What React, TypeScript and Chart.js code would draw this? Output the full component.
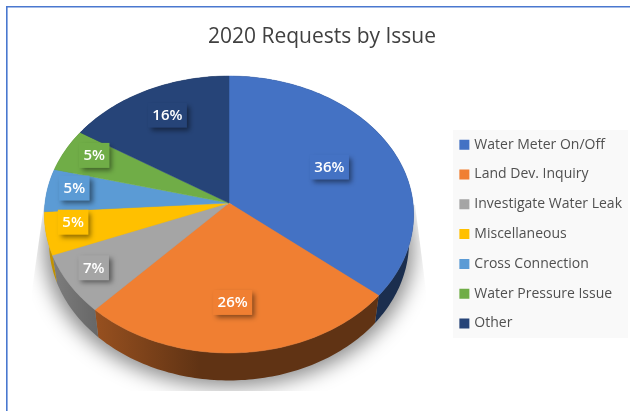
import { useEffect, useRef } from "react";
import { Chart, registerables } from "chart.js";

Chart.register(...registerables);

const categories = [
  "Water Meter On/Off",
  "Land Dev. Inquiry",
  "Investigate Water Leak",
  "Miscellaneous",
  "Cross Connection",
  "Water Pressure Issue",
  "Other",
];
const shares = [36, 26, 7, 5, 5, 5, 16];
const sliceColors = ["#4472C4", "#F07F32", "#A5A5A5", "#FFC000", "#5B9BD5", "#70AD47", "#264478"];
const chartTitle = "2020 Requests by Issue";

// Screen placement of the tilted disc
const VERTEX_X = 229;
const VERTEX_Y = 203;
const SEMI_X = 184;
const SEMI_Y = 137.5;
const TILT = -0.083;
const WALL_DROP = 27.5;
const RIM_SHRINK = 0.975;
// How far out along each slice's mid-angle its label sits, plus a small pixel nudge
const labelReach = [0.61, 0.78, 0.89, 0.86, 0.85, 0.82, 0.77];
const labelNudgeX = [1, -6, 6, 1, 0, 0, 3];
const labelNudgeY = [-1, -15, -7, -7, -4, -4, 0];

type Pt = { x: number; y: number };

// Perspective mapping of a disc point. Chart.js angles start at 3 o'clock.
function projectInner(angle: number, reach: number): Pt {
  const u = reach * Math.cos(angle);
  const v = reach * Math.sin(angle);
  const w = 1 + TILT * v;
  return { x: VERTEX_X + (SEMI_X * u) / w, y: VERTEX_Y + (SEMI_Y * v) / w };
}

function project(angle: number): Pt {
  return projectInner(angle, 1);
}

function lowerRim(angle: number): Pt {
  const p = project(angle);
  return { x: VERTEX_X + (p.x - VERTEX_X) * RIM_SHRINK, y: p.y + WALL_DROP };
}

function samples(start: number, end: number): number[] {
  const n = Math.max(2, Math.ceil((end - start) / 0.02));
  const out: number[] = [];
  for (let i = 0; i <= n; i++) out.push(start + ((end - start) * i) / n);
  return out;
}

function shade(hex: string, k: number): string {
  const n = parseInt(hex.slice(1), 16);
  const r = Math.round(((n >> 16) & 255) * k);
  const g = Math.round(((n >> 8) & 255) * k);
  const b = Math.round((n & 255) * k);
  return `rgb(${r},${g},${b})`;
}

function drawGroundShadow(ctx: CanvasRenderingContext2D) {
  ctx.save();
  ctx.beginPath();
  ctx.moveTo(44, 205);
  ctx.lineTo(415, 205);
  ctx.lineTo(426, 290);
  ctx.lineTo(426, 391);
  ctx.lineTo(32, 391);
  ctx.lineTo(32, 290);
  ctx.closePath();
  ctx.clip();
  ctx.filter = "blur(10px)";
  ctx.fillStyle = "rgba(0,0,0,0.46)";
  ctx.beginPath();
  samples(0, Math.PI * 2).forEach((a, i) => {
    const p = lowerRim(a);
    const x = VERTEX_X + (p.x - VERTEX_X) * 1.025;
    const y = p.y + 6;
    if (i === 0) ctx.moveTo(x, y);
    else ctx.lineTo(x, y);
  });
  ctx.closePath();
  ctx.fill();
  ctx.restore();
}

const piePainter = {
  id: "piePainter",
  afterLayout(chart: any) {
    // the legend's text runs closer to the edge than its row padding allows
    chart.legend.left += 2;
    chart.legend.right += 2;
  },
  beforeDraw(chart: any) {
    const { ctx } = chart;
    ctx.save();
    // frame around the chart
    ctx.fillStyle = "#ffffff";
    ctx.fillRect(0, 0, chart.width, chart.height);
    ctx.strokeStyle = "#4A78CF";
    ctx.lineWidth = 1.6;
    ctx.beginPath();
    ctx.moveTo(6.8, chart.height);
    ctx.lineTo(6.8, 6.8);
    ctx.lineTo(chart.width, 6.8);
    ctx.stroke();
    // legend panel
    ctx.fillStyle = "#F9F9F9";
    ctx.fillRect(453, 130, 175, 208);
    ctx.restore();
  },
  beforeDatasetDraw(chart: any) {
    const ctx: CanvasRenderingContext2D = chart.ctx;
    const arcs = chart.getDatasetMeta(0).data;
    const colors: string[] = chart.data.datasets[0].backgroundColor;

    drawGroundShadow(ctx);

    // side wall first, the top face covers whatever faces away
    arcs.forEach((arc: any, i: number) => {
      const { startAngle, endAngle } = arc.getProps(["startAngle", "endAngle"], true);
      const grad = ctx.createLinearGradient(44, 0, 414, 0);
      grad.addColorStop(0, shade(colors[i], 0.78));
      grad.addColorStop(0.15, shade(colors[i], 0.62));
      grad.addColorStop(0.42, shade(colors[i], 0.4));
      grad.addColorStop(1, shade(colors[i], 0.4));
      const pts = samples(startAngle, endAngle);
      ctx.beginPath();
      pts.forEach((a, k) => {
        const p = project(a);
        if (k === 0) ctx.moveTo(p.x, p.y);
        else ctx.lineTo(p.x, p.y);
      });
      pts
        .slice()
        .reverse()
        .forEach((a) => {
          const p = lowerRim(a);
          ctx.lineTo(p.x, p.y);
        });
      ctx.closePath();
      ctx.fillStyle = grad;
      ctx.fill();
    });

    // top face
    arcs.forEach((arc: any, i: number) => {
      const { startAngle, endAngle } = arc.getProps(["startAngle", "endAngle"], true);
      ctx.beginPath();
      ctx.moveTo(VERTEX_X, VERTEX_Y);
      samples(startAngle, endAngle).forEach((a) => {
        const p = project(a);
        ctx.lineTo(p.x, p.y);
      });
      ctx.closePath();
      ctx.fillStyle = colors[i];
      ctx.strokeStyle = colors[i];
      ctx.lineWidth = 0.5;
      ctx.fill();
      ctx.stroke();
    });

    // percentage tags
    ctx.font = "600 15px 'Open Sans'";
    ctx.textAlign = "center";
    ctx.textBaseline = "middle";
    arcs.forEach((arc: any, i: number) => {
      const { startAngle, endAngle } = arc.getProps(["startAngle", "endAngle"], true);
      const c = projectInner((startAngle + endAngle) / 2, labelReach[i]);
      const cx = c.x + labelNudgeX[i];
      const cy = c.y + labelNudgeY[i];
      const text = `${chart.data.datasets[0].data[i]}%`;
      const w = ctx.measureText(text).width + 9;
      const h = 25;
      ctx.save();
      ctx.shadowColor = "rgba(0,0,0,0.45)";
      ctx.shadowBlur = 5;
      ctx.shadowOffsetX = 3;
      ctx.shadowOffsetY = 3;
      ctx.fillStyle = colors[i];
      ctx.fillRect(cx - w / 2, cy - h / 2, w, h);
      ctx.restore();
      ctx.fillStyle = "#ffffff";
      ctx.fillText(text, cx, cy + 0.5);
    });
    return false;
  },
};

export default function App() {
  const ref = useRef<HTMLCanvasElement>(null);
  useEffect(() => {
    const chart = new Chart(ref.current!, {
      type: "pie",
      data: {
        labels: categories,
        datasets: [
          {
            data: shares,
            backgroundColor: sliceColors,
            borderColor: sliceColors,
            borderWidth: 4,
          },
        ],
      },
      options: {
        responsive: false,
        animation: false,
        layout: { padding: { left: 14, right: 0, top: 0, bottom: 0 } },
        plugins: {
          tooltip: { enabled: false },
          title: {
            display: true,
            text: chartTitle,
            color: "#404040",
            font: { family: "'Open Sans'", size: 21, weight: "normal" },
            padding: { top: 24, bottom: 8 },
          },
          legend: {
            position: "right",
            fullSize: false,
            labels: {
              boxWidth: 6,
              boxHeight: 6,
              padding: 15.8,
              color: "#505050",
              font: { family: "'Open Sans'", size: 14 },
            },
          },
        },
      },
      plugins: [piePainter],
    } as any);
    return () => chart.destroy();
  }, []);
  return (
    <div style={{ position: "absolute", left: 0, top: 0, width: 630, height: 411 }}>
      <canvas ref={ref} width={630} height={411} style={{ display: "block" }} />
    </div>
  );
}
